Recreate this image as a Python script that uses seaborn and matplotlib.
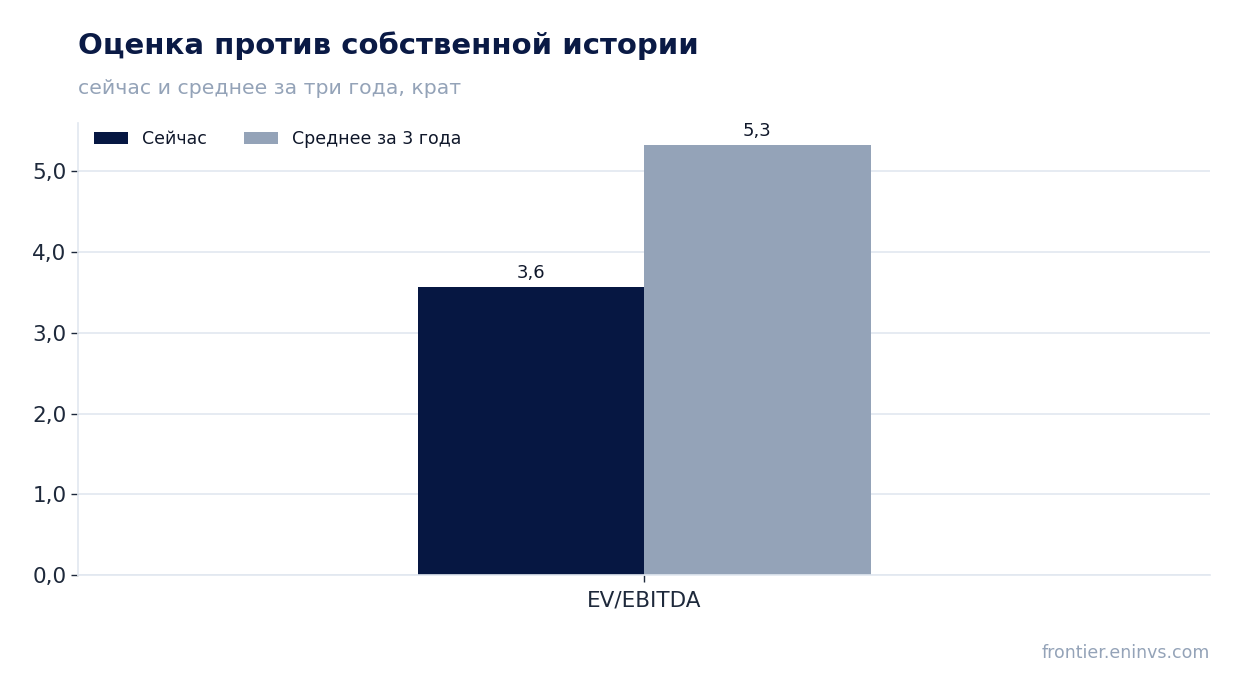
import matplotlib
matplotlib.use("Agg")
import matplotlib.pyplot as plt
import seaborn as sns
import pandas as pd

# Data
metrics = ["EV/EBITDA"]
series = ["Сейчас", "Среднее за 3 года"]
now_values = [3.56]
avg_values = [5.32]
palette = ["#061742", "#94a3b8"]

df = pd.DataFrame({
    "metric": metrics * 2,
    "series": [series[0]] * len(metrics) + [series[1]] * len(metrics),
    "value": now_values + avg_values,
})

sns.set_theme(style="white")
plt.rcParams["font.family"] = ["DejaVu Sans"]

fig, ax = plt.subplots(figsize=(12.4, 6.93), dpi=100)
fig.subplots_adjust(left=0.063, right=0.976, top=0.822, bottom=0.17)

sns.barplot(data=df, x="metric", y="value", hue="series", palette=palette,
            width=0.8, saturation=1, linewidth=0, ax=ax)

# value labels with comma decimals
for cont in ax.containers:
    ax.bar_label(cont, labels=[f"{b.get_height():.1f}".replace(".", ",") for b in cont],
                 padding=4, fontsize=13, color="#0f172a")

ax.set_xlim(-1, 1)
ax.set_ylim(0, 5.59)
ax.set_yticks([0, 1, 2, 3, 4, 5])
ax.set_yticklabels([f"{t:.1f}".replace(".", ",") for t in [0, 1, 2, 3, 4, 5]])
ax.set_xlabel("")
ax.set_ylabel("")
ax.grid(axis="y", color="#e2e8f0", linewidth=1.2)
ax.set_axisbelow(True)
for s in ["top", "right"]:
    ax.spines[s].set_visible(False)
for s in ["left", "bottom"]:
    ax.spines[s].set_color("#e2e8f0")
    ax.spines[s].set_linewidth(1.2)
ax.tick_params(axis="both", labelsize=15.5, colors="#1e293b", length=5, width=1,
               left=True, bottom=True)
ax.tick_params(axis="x", pad=6)

leg = ax.legend(loc="upper left", ncol=2, frameon=False, fontsize=12.5,
                handlelength=2.0, handleheight=0.7, columnspacing=2.1,
                bbox_to_anchor=(0.0, 1.02))
for t in leg.get_texts():
    t.set_color("#0f172a")

fig.text(0.063, 0.922, "Оценка против собственной истории", fontsize=21,
         fontweight="bold", color="#0a1a45", va="baseline")
fig.text(0.063, 0.865, "сейчас и среднее за три года, крат", fontsize=14.7,
         color="#94a3b8", va="baseline")
fig.text(0.976, 0.05, "frontier.eninvs.com", fontsize=12.5, color="#94a3b8",
         ha="right", va="baseline")

fig.savefig("out.png", dpi=100)
